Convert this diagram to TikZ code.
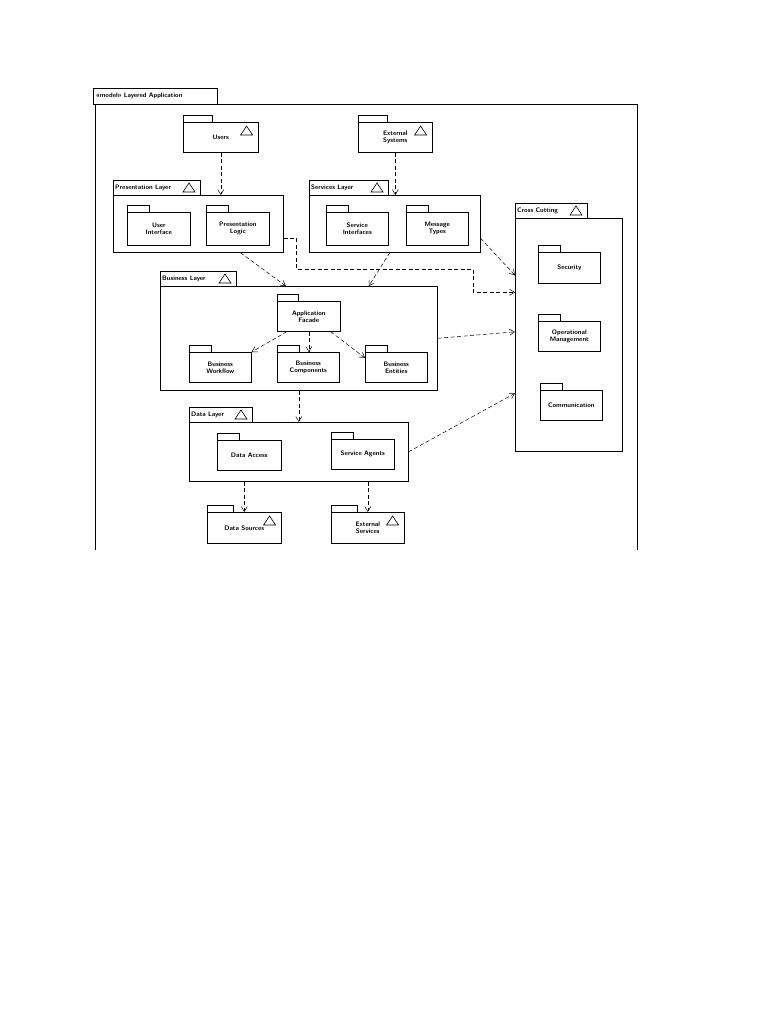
\documentclass[tikz,border=0pt]{standalone}
\usepackage{tikz}
\usetikzlibrary{arrows.meta}

% package box with small tab on top
\newcommand\umlpkg[7]{%
  \node[pkgbody, minimum width=#4pt, minimum height=#5pt, anchor=north west]
  (#1) at (#2,#3) {#7};
  \draw[pkgline] (#1.north west) rectangle ++(#6pt,7pt);}
% layer with labelled tab
\newcommand\umllayer[7]{%
  \node[pkgbody, minimum width=#4pt, minimum height=#5pt, anchor=north west]
  (#1) at (#2,#3) {};
  \draw[pkgline] (#1.north west) rectangle ++(#6pt,15pt);
  \node[tablabel, anchor=west] (#1-tab) at ([shift={(2pt,7.5pt)}]#1.north west) {#7};
  \draw[pkgline] ([shift={(#6pt,0pt)}]#1.north west) ++(-17pt,3pt) -- ++(12pt,0) -- ++(-6pt,9pt) -- cycle;}
% marker triangle inside a top level package
\newcommand\umltri[1]{%
  \draw[pkgline] ([shift={(-18pt,-13pt)}]#1.north east) -- ++(12pt,0) -- ++(-6pt,9pt) -- cycle;}

\tikzset{
  pkgline/.style={draw, line width=0.6pt},
  pkgbody/.style={pkgline, rectangle, inner sep=1pt, align=center,
    font=\fontsize{6.5}{7}\selectfont\sffamily\bfseries},
  tablabel/.style={inner sep=0pt, font=\fontsize{6.5}{7}\selectfont\sffamily\bfseries},
  dep/.style={dash pattern=on 4pt off 2.5pt, line width=0.5pt, -{Straight Barb[length=5pt,width=6pt]}}
}

\begin{document}
\begin{tikzpicture}[x=1pt,y=-1pt]
  \useasboundingbox (0,0) rectangle (768,1024);

  % outer frame
  \draw[pkgline] (93,88) rectangle (217,104);
  \node[tablabel, anchor=west] (frame-tab) at (96,96) {\guillemotleft model\guillemotright\ Layered Application};
  \draw[pkgline] (95,550) -- (95,104) -- (637,104) -- (637,550);

  % top level
  \umlpkg{Users}{183}{122}{75}{30}{29}{Users}
  \umltri{Users}
  \umlpkg{ExtSys}{358}{122}{74}{30}{29}{External\\Systems}
  \umltri{ExtSys}

  % presentation layer
  \umllayer{PresLayer}{113}{195}{170}{57}{87}{Presentation Layer}
  \umlpkg{UI}{127}{212}{63}{33}{22}{User\\Interface}
  \umlpkg{PresLogic}{206}{212}{63}{33}{22}{Presentation\\Logic}

  % services layer
  \umllayer{SvcLayer}{309}{195}{171}{57}{79}{Services Layer}
  \umlpkg{SvcIf}{326}{212}{62}{33}{22}{Service\\Interfaces}
  \umlpkg{MsgTypes}{406}{212}{62}{33}{22}{Message\\Types}

  % cross cutting
  \umllayer{Cross}{515}{218}{107}{233}{72}{Cross Cutting}
  \umlpkg{Security}{538}{252}{62}{31}{22}{Security}
  \umlpkg{OpMgmt}{538}{321}{62}{30}{22}{Operational\\Management}
  \umlpkg{Comm}{540}{390}{62}{30}{22}{Communication}

  % business layer
  \umllayer{BizLayer}{160}{286}{277}{104}{76}{Business Layer}
  \umlpkg{AppFacade}{277}{301}{63}{30}{21}{Application\\Facade}
  \umlpkg{BizWorkflow}{189}{352}{62}{30}{22}{Business\\Workflow}
  \umlpkg{BizComp}{277}{352}{62}{30}{22}{Business\\Components}
  \umlpkg{BizEntities}{365}{352}{62}{30}{22}{Business\\Entities}

  % data layer
  \umllayer{DataLayer}{189}{422}{219}{59}{63}{Data Layer}
  \umlpkg{DataAccess}{217}{440}{64}{30}{22}{Data Access}
  \umlpkg{SvcAgents}{331}{439}{63}{30}{22}{Service Agents}

  % bottom
  \umlpkg{DataSrc}{207}{512}{74}{31}{26}{Data Sources}
  \umltri{DataSrc}
  \umlpkg{ExtSvc}{331}{512}{73}{31}{26}{External\\Services}
  \umltri{ExtSvc}

  % dependencies
  \draw[dep] (Users.south) -- (Users.south |- PresLayer.north);
  \draw[dep] (ExtSys.south) -- (ExtSys.south |- SvcLayer.north);
  \draw[dep] ([xshift=42pt]PresLayer.south) -- ([xshift=-13pt]BizLayer.north);
  \draw[dep] ([xshift=-5pt]SvcLayer.south) -- ([xshift=70pt]BizLayer.north);
  \draw[dep] ([yshift=-14.5pt]SvcLayer.east) -- ([yshift=59.5pt]Cross.west);
  \draw[dep] ([yshift=-14.5pt]PresLayer.east) -- ++(13pt,0) |- (473,269) |- ([yshift=42.5pt]Cross.west);
  \draw[dep] (BizLayer.east) -- ([yshift=3pt]Cross.west);
  \draw[dep] (AppFacade.south west) ++(10pt,0) -- (BizWorkflow.north east);
  \draw[dep] (AppFacade.south) -- (AppFacade.south |- BizComp.north);
  \draw[dep] ([xshift=-10pt]AppFacade.south east) -- ([yshift=-6pt]BizEntities.north west);
  \draw[dep] (BizLayer.south) -- (BizLayer.south |- DataLayer.north);
  \draw[dep] (DataLayer.east) -- ([yshift=-58.5pt]Cross.west);
  \draw[dep] (DataSrc.north |- DataLayer.south) -- (DataSrc.north);
  \draw[dep] (ExtSvc.north |- DataLayer.south) -- (ExtSvc.north);
\end{tikzpicture}
\end{document}
